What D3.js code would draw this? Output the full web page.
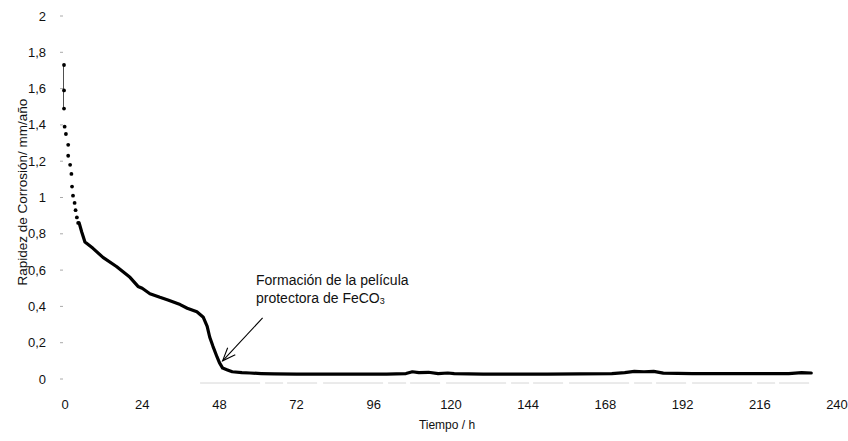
<!DOCTYPE html>
<html>
<head>
<meta charset="utf-8">
<script src="https://cdn.jsdelivr.net/npm/d3@7"></script>
<style>
  html, body { margin: 0; padding: 0; background: #fff; }
  svg { display: block; }
  text { font-family: "Liberation Sans", Arial, sans-serif; fill: #111; }
</style>
</head>
<body>
<svg id="chart" width="848" height="441"></svg>
<script>
// Corrosion rate vs time
const xTicks = [0, 24, 48, 72, 96, 120, 144, 168, 192, 216, 240];
const yTicks = [0, 0.2, 0.4, 0.6, 0.8, 1, 1.2, 1.4, 1.6, 1.8, 2];

// First hours: sparse readings, drawn as individual dots
const timeEarly = [0, 0, 0, 0.2, 0.6, 1.3, 1.3, 1.9, 2.3, 2.5, 2.8, 3.3, 3.6, 4.0, 4.4];
const rateEarly = [1.73, 1.59, 1.49, 1.39, 1.35, 1.29, 1.23, 1.18, 1.13, 1.06, 1.01, 0.97, 0.93, 0.89, 0.86];

// Remaining record: dense readings that merge into a thick trace
const timeMain = [4.4, 5.2, 6.2, 8.7, 11.8, 16, 20.2, 22.7, 24, 26.4, 29.5, 32, 35.8, 38, 41, 43,
  44.2, 45, 46, 47.3, 48, 49, 50.5, 52, 55, 57.5, 61, 65, 72, 80, 90, 100, 106, 108, 110, 113,
  116, 119, 121, 130, 140, 150, 160, 170, 174, 177, 180, 183, 186, 195, 205, 215, 225, 229, 232];
const rateMain = [0.86, 0.81, 0.755, 0.72, 0.67, 0.62, 0.56, 0.51, 0.50, 0.47, 0.45, 0.435, 0.41, 0.39, 0.37, 0.34,
  0.29, 0.23, 0.18, 0.12, 0.09, 0.06, 0.05, 0.04, 0.035, 0.033, 0.03, 0.028, 0.027, 0.027, 0.027, 0.027, 0.03, 0.04, 0.035, 0.037,
  0.03, 0.033, 0.03, 0.027, 0.027, 0.027, 0.028, 0.03, 0.035, 0.042, 0.04, 0.042, 0.032, 0.03, 0.03, 0.03, 0.03, 0.035, 0.033];

const annotationLines = ["Formación de la película", "protectora de FeCO"];

const svg = d3.select("#chart");
const x = d3.scaleLinear().domain([0, 240]).range([65, 837]);
const y = d3.scaleLinear().domain([0, 2]).range([379, 16]);
const fmt = v => String(v).replace(".", ",");

// faint baseline
svg.append("line")
  .attr("x1", x(42)).attr("x2", x(232))
  .attr("y1", y(0) + 4).attr("y2", y(0) + 4)
  .attr("stroke", "#d6d6d6").attr("stroke-width", 1)
  .attr("stroke-dasharray", "60 5 18 4 30 6");

// y axis labels and faint ticks
const yAxis = svg.append("g");
yAxis.selectAll("text").data(yTicks).join("text")
  .attr("x", 46).attr("y", d => y(d))
  .attr("dy", "0.35em").attr("text-anchor", "end")
  .attr("font-size", 13)
  .text(fmt);
yAxis.selectAll("line").data(yTicks).join("line")
  .attr("x1", 60).attr("x2", 63)
  .attr("y1", d => y(d)).attr("y2", d => y(d))
  .attr("stroke", "#aaa");

// x axis labels
svg.append("g").selectAll("text").data(xTicks).join("text")
  .attr("x", d => x(d)).attr("y", 404)
  .attr("dy", "0.35em").attr("text-anchor", "middle")
  .attr("font-size", 13)
  .text(d => d);

// axis titles
svg.append("text")
  .attr("x", 447).attr("y", 425)
  .attr("dy", "0.35em").attr("text-anchor", "middle")
  .attr("font-size", 12)
  .text("Tiempo / h");

svg.append("text")
  .attr("transform", `translate(22,${y(1.03)}) rotate(-90)`)
  .attr("dy", "0.35em").attr("text-anchor", "middle")
  .attr("font-size", 13.5)
  .text("Rapidez de Corrosión/ mm/año");

// early sparse readings
const early = timeEarly.map((t, i) => [t, rateEarly[i]]);
svg.append("path")
  .datum(early.slice(0, 3))
  .attr("fill", "none").attr("stroke", "#222").attr("stroke-width", 0.8)
  .attr("d", d3.line().x(d => x(d[0]) - 1.5).y(d => y(d[1])));
svg.append("g").selectAll("circle").data(early).join("circle")
  .attr("cx", d => x(d[0]) - 1)
  .attr("cy", d => y(d[1]))
  .attr("r", 1.9).attr("fill", "#000");

// main trace
const main = timeMain.map((t, i) => [t, rateMain[i]]);
svg.append("path")
  .datum(main)
  .attr("fill", "none").attr("stroke", "#000")
  .attr("stroke-width", 3.2).attr("stroke-linejoin", "round").attr("stroke-linecap", "round")
  .attr("d", d3.line().x(d => x(d[0])).y(d => y(d[1])));

// annotation
const note = svg.append("text").attr("font-size", 14);
note.append("tspan").attr("x", 256).attr("y", 285).text(annotationLines[0]);
note.append("tspan").attr("x", 256).attr("y", 303).text(annotationLines[1]);
note.append("tspan").attr("font-size", 9).attr("dy", 1).text("3");

// arrow pointing at the drop near 48 h
const tip = [x(49), y(0.1)];
const tail = [tip[0] + 40, tip[1] - 43];
const ang = Math.atan2(tail[1] - tip[1], tail[0] - tip[0]);
const head = 14, spread = 0.38;
svg.append("line")
  .attr("x1", tail[0]).attr("y1", tail[1]).attr("x2", tip[0]).attr("y2", tip[1])
  .attr("stroke", "#000").attr("stroke-width", 1.1);
svg.append("path")
  .attr("fill", "none").attr("stroke", "#000").attr("stroke-width", 1.1)
  .attr("d", `M${tip[0] + head * Math.cos(ang - spread)},${tip[1] + head * Math.sin(ang - spread)}L${tip[0]},${tip[1]}L${tip[0] + head * Math.cos(ang + spread)},${tip[1] + head * Math.sin(ang + spread)}`);
</script>
</body>
</html>
